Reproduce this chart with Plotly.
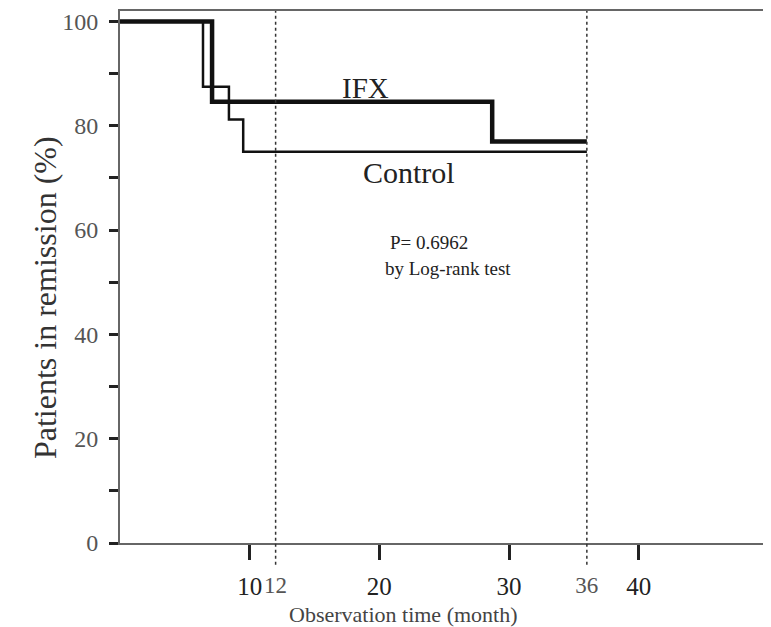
import plotly.graph_objects as go

# Kaplan-Meier step data (months, % in remission)
ifx_time = [0, 7.1, 28.7, 36]
ifx_pct = [100, 84.6, 77.0, 77.0]
ctrl_time = [0, 6.4, 8.4, 9.5, 36]
ctrl_pct = [100, 87.5, 81.2, 75.0, 75.0]

x_major_ticks = [10, 20, 30, 40]
x_marker_ticks = [12, 36]
y_label_ticks = [0, 20, 40, 60, 80, 100]

FONT = "Liberation Serif"
X_RANGE = [0, 50.2]
Y_RANGE = [0, 102]

fig = go.Figure()
fig.add_trace(go.Scatter(x=ifx_time, y=ifx_pct, mode="lines", line_shape="hv",
                         line=dict(color="#111", width=4.5), name="IFX", showlegend=False))
fig.add_trace(go.Scatter(x=ctrl_time, y=ctrl_pct, mode="lines", line_shape="hv",
                         line=dict(color="#111", width=2.5), name="Control", showlegend=False))
# invisible trace to activate the secondary x axis carrying the 12 / 36 labels
fig.add_trace(go.Scatter(x=[X_RANGE[0]], y=[0], xaxis="x2", mode="markers",
                         marker=dict(opacity=0), showlegend=False, hoverinfo="skip"))

for xv in x_marker_ticks:
    fig.add_shape(type="line", xref="x", yref="paper", x0=xv, x1=xv, y0=-0.041, y1=1,
                  line=dict(color="#333", width=1.5, dash="dot"))

fig.update_layout(
    width=763, height=619,
    margin=dict(l=112, r=0, t=3, b=84, autoexpand=False),
    paper_bgcolor="white", plot_bgcolor="white",
    font=dict(family=FONT, color="#222"),
    xaxis=dict(range=X_RANGE, tickvals=x_major_ticks, ticktext=[str(v) for v in x_major_ticks],
               ticks="outside", ticklen=15, tickwidth=3, tickcolor="#222",
               tickfont=dict(size=25, color="#222", family=FONT), ticklabelstandoff=5,
               showline=True, linecolor="#666", linewidth=2, mirror=True,
               showgrid=False, zeroline=False, automargin=False),
    xaxis2=dict(range=X_RANGE, overlaying="x", anchor="y", side="bottom",
                tickvals=x_marker_ticks, ticktext=[str(v) for v in x_marker_ticks],
                ticks="outside", ticklen=15, tickcolor="rgba(0,0,0,0)",
                tickfont=dict(size=23, color="#555", family=FONT), ticklabelstandoff=6,
                showline=False, showgrid=False, zeroline=False, automargin=False),
    yaxis=dict(range=Y_RANGE, tickvals=y_label_ticks, ticktext=[str(v) for v in y_label_ticks],
               ticks="outside", ticklen=9, tickwidth=2.5, tickcolor="#222",
               minor=dict(dtick=10, tick0=0, ticks="outside", ticklen=9, tickwidth=2.5, tickcolor="#222"),
               tickfont=dict(size=24, color="#555", family=FONT), ticklabelstandoff=6,
               showline=True, linecolor="#666", linewidth=2,
               showgrid=False, zeroline=False, automargin=False),
    annotations=[
        dict(text="IFX", x=18.9, y=87.2, xref="x", yref="y", showarrow=False,
             font=dict(size=29, color="#222", family=FONT)),
        dict(text="Control", x=22.3, y=71.1, xref="x", yref="y", showarrow=False,
             font=dict(size=30, color="#222", family=FONT)),
        dict(text="P= 0.6962", x=20.7, y=57.7, xref="x", yref="y", showarrow=False,
             xanchor="left", font=dict(size=19, color="#222", family=FONT)),
        dict(text="by Log-rank test", x=20.3, y=52.7, xref="x", yref="y", showarrow=False,
             xanchor="left", font=dict(size=19, color="#222", family=FONT)),
        dict(text="Patients in remission (%)", x=-0.1152, y=0.4605, xref="paper", yref="paper",
             xanchor="center", yanchor="middle",
             showarrow=False, textangle=-90, font=dict(size=32, color="#333", family=FONT)),
        dict(text="Observation time (month)", x=0.436, y=-0.1353, xref="paper", yref="paper",
             xanchor="center", yanchor="middle",
             showarrow=False, font=dict(size=22, color="#444", family=FONT)),
    ],
)

fig.write_html("out.html")
